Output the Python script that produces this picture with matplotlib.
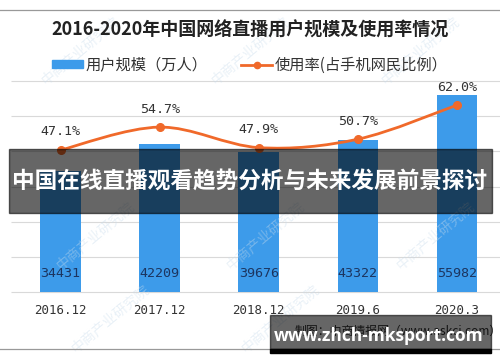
import matplotlib
matplotlib.use('Agg')
import matplotlib.pyplot as plt
from matplotlib.path import Path
from matplotlib.patches import PathPatch, Rectangle
from matplotlib.lines import Line2D

plt.rcParams['font.family'] = ['Noto Sans CJK SC', 'DejaVu Sans']

# data
periods = ['2016.12', '2017.12', '2018.12', '2019.6', '2020.3']
users = [34431, 42209, 39676, 43322, 55982]          # 万人
rate = [47.1, 54.7, 47.9, 50.7, 62.0]                  # %
grid_levels = [0, 10000, 20000, 30000, 40000, 50000, 60000]

title = '2016-2020年中国网络直播用户规模及使用率情况'
bar_name = '用户规模（万人）'
line_name = '使用率(占手机网民比例）'
banner = '中国在线直播观看趋势分析与未来发展前景探讨'
site = 'www.zhch-mksport.com'
source = '制图：中商情报网（www.askci.com）'

blue = '#3d9bea'
orange = '#f0692a'
W, H = 500, 362

fig = plt.figure(figsize=(5, 3.62), dpi=100)

def fx(px):
    return px / W

def fy(py):
    return 1 - py / H

# plot area: 0 at y=292, 60000 at y=81
ax = fig.add_axes([fx(11), fy(292), fx(495.5), (292 - 81) / H])
x = list(range(len(periods)))
ax.bar(x, users, width=0.41, color=blue, zorder=2)
ax.set_xlim(-0.5, 4.5)
ax.set_ylim(0, 60000)
ax.hlines(grid_levels, -0.5, 4.5, color='#d9d9d9', linewidth=0.8, zorder=1, clip_on=False)
for s in ax.spines.values():
    s.set_visible(False)
ax.set_yticks([])
ax.set_xticks(x)
ax.set_xticklabels(periods, family='DejaVu Sans Mono', fontsize=9, color='#333333')
ax.tick_params(axis='x', length=0, pad=8.5)

for xi, v in zip(x, users):
    ax.annotate(str(v), (xi, 0), xytext=(0, 13), textcoords='offset points',
                ha='center', va='center', family='DejaVu Sans Mono', fontsize=9.6,
                color='#1c3560', zorder=3)

# usage rate on a hidden right axis, 0-70%
ax2 = ax.twinx()
ax2.set_ylim(0, 70)
ax2.axis('off')
ax.set_yticks([])

# smoothed line (catmull-rom style bezier through the points)
verts = [(x[0], rate[0])]
codes = [Path.MOVETO]
n = len(x)
for i in range(n - 1):
    p0 = (x[max(i - 1, 0)], rate[max(i - 1, 0)])
    p1 = (x[i], rate[i])
    p2 = (x[i + 1], rate[i + 1])
    p3 = (x[min(i + 2, n - 1)], rate[min(i + 2, n - 1)])
    c1 = (p1[0] + (p2[0] - p0[0]) / 6, p1[1] + (p2[1] - p0[1]) / 6)
    c2 = (p2[0] - (p3[0] - p1[0]) / 6, p2[1] - (p3[1] - p1[1]) / 6)
    verts += [c1, c2, p2]
    codes += [Path.CURVE4] * 3
ax2.add_patch(PathPatch(Path(verts, codes), facecolor='none', edgecolor=orange,
                        linewidth=2, zorder=4))
ax2.plot(x, rate, 'o', color=orange, markersize=5.5, zorder=5)
for xi, r in zip(x, rate):
    ax2.annotate('%.1f%%' % r, (xi, r), xytext=(0, 13), textcoords='offset points',
                 ha='center', va='center', family='DejaVu Sans Mono', fontsize=9.6,
                 color='#333333', zorder=5)

# faint watermarks
marks = [(80, 50), (250, 50), (420, 50), (95, 235), (265, 235), (435, 235),
         (110, 318), (280, 318)]
for mx, my in marks:
    fig.text(fx(mx), fy(my), '中商产业研究院', rotation=40, ha='center', va='center',
             fontsize=10, color='#c9dcec', alpha=0.4, zorder=1)

# title and legend
fig.text(0.5, fy(30), title, ha='center', va='center', fontsize=13,
         fontweight='bold', color='#222222')
handles = [Rectangle((0, 0), 1, 1, color=blue),
           Line2D([], [], color=orange, linewidth=2, marker='o', markersize=4.5)]
fig.legend(handles, [bar_name, line_name], loc='center', bbox_to_anchor=(0.5, fy(65)),
           ncol=2, frameon=False, fontsize=11, handlelength=2.0, handleheight=0.5,
           handletextpad=0.2, columnspacing=2.2, labelcolor='#333333')

# border lines
fig.add_artist(Line2D([0, 1], [fy(10), fy(10)], color='#999999', linewidth=0.9))
fig.add_artist(Line2D([0, 1], [fy(349), fy(349)], color='#999999', linewidth=0.9))

# overlay banner
fig.add_artist(Rectangle((fx(9), fy(213)), fx(483), (213 - 149) / H,
                         color='black', alpha=0.6, zorder=10))
fig.text(0.5, fy(181), banner, ha='center', va='center', fontsize=16.3,
         fontweight='bold', color='white', zorder=11)

# source line and site badge
fig.text(fx(295), fy(331), source, ha='left', va='center', fontsize=8.6,
         color='#333333', zorder=9)
fig.add_artist(Rectangle((fx(270), fy(349)), fx(221), (349 - 315) / H,
                         color='black', alpha=0.6, zorder=10))
fig.add_artist(Rectangle((fx(270), fy(353)), fx(221), 4 / H,
                         color='black', zorder=10))
fig.text(fx(379), fy(336), site, ha='center', va='center', fontsize=12.5,
         fontweight='bold', color='white', family=['Open Sans', 'DejaVu Sans'], zorder=11)

fig.savefig('out.png', dpi=100)
